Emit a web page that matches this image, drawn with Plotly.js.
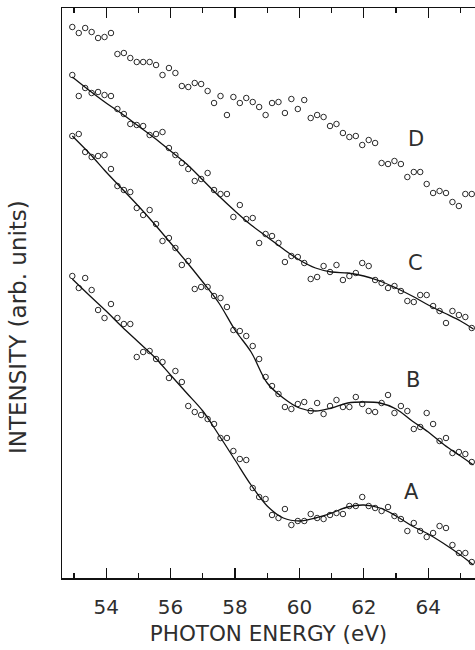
<!DOCTYPE html>
<html>
<head>
<meta charset="utf-8">
<script src="https://cdn.plot.ly/plotly-3.0.1.min.js"></script>
<style>
  html, body { margin: 0; padding: 0; background: #fff; }
  #chart { width: 475px; height: 650px; }
  #dbg { position: absolute; left: 70px; top: 300px; font: 10px monospace; width: 400px; word-wrap: break-word; }
</style>
</head>
<body>
<div id="chart"></div>
<div id="dbg"></div>
<script>
// Photon energies (eV) of the measured points, shared by all four spectra
const energies = [52.95, 53.15, 53.35, 53.55, 53.75, 53.95, 54.15, 54.35, 54.55, 54.75,
  54.95, 55.15, 55.35, 55.55, 55.75, 55.95, 56.15, 56.35, 56.55, 56.75,
  56.95, 57.15, 57.35, 57.55, 57.75, 57.95, 58.15, 58.35, 58.55, 58.75,
  58.95, 59.15, 59.35, 59.55, 59.75, 59.95, 60.15, 60.35, 60.55, 60.75,
  60.95, 61.15, 61.35, 61.55, 61.75, 61.95, 62.15, 62.35, 62.55, 62.75,
  62.95, 63.15, 63.35, 63.55, 63.75, 63.95, 64.15, 64.35, 64.55, 64.75,
  64.95, 65.15, 65.35];

// Measured intensities (arb. units, offset spectra)
const seriesA = [302, 290, 300, 288, 268, 260, 274, 260, 254, 254,
  221, 226, 227, 219, 216, 200, 207, 196, 172, 166,
  163, 159, 154, 140, 140, 127, 119, 118, 90, 81,
  79, 63, 60, 69, 53, 57, 57, 64, 60, 59,
  63, 65, 64, 72, 72, 81, 72, 70, 67, 71,
  62, 59, 47, 55, 47, 41, 45, 52, 50, 33,
  25, 25, 16];
const seriesB = [442, 444, 426, 421, 422, 423, 409, 392, 388, 386,
  370, 363, 368, 354, 337, 340, 330, 313, 317, 289,
  291, 291, 282, 280, 271, 248, 247, 242, 232, 219,
  201, 192, 184, 171, 169, 174, 176, 167, 175, 164,
  172, 178, 171, 171, 181, 174, 167, 166, 175, 183,
  165, 172, 167, 149, 151, 165, 154, 137, 140, 125,
  126, 124, 116];
const seriesC = [503, 482, 490, 485, 486, 483, 482, 469, 464, 454,
  453, 452, 443, 444, 446, 430, 423, 415, 409, 397,
  399, 405, 388, 384, 384, 361, 373, 359, 360, 335,
  344, 342, 335, 316, 322, 321, 315, 299, 301, 312,
  306, 313, 298, 302, 305, 315, 312, 298, 295, 290,
  292, 287, 277, 276, 283, 283, 272, 267, 255, 267,
  263, 261, 250];
const seriesD = [551, 545, 550, 546, 540, 541, 545, 524, 525, 520,
  516, 516, 516, 513, 503, 510, 505, 492, 491, 495,
  494, 487, 475, 482, 463, 481, 475, 480, 476, 471,
  463, 475, 476, 465, 479, 469, 478, 460, 463, 461,
  452, 454, 445, 441, 442, 433, 438, 435, 415, 414,
  417, 414, 401, 406, 406, 394, 385, 387, 385, 376,
  372, 384, 384];

// Fitted curves
const fitEnergies = [52.95, 53.5, 54, 54.5, 55, 55.5, 56, 56.5, 57, 57.5,
  58, 58.5, 59, 59.5, 60, 60.5, 61, 61.5, 62, 62.5,
  63, 63.5, 64, 64.5, 65, 65.4];
const fitA = [299, 282, 267, 251, 236, 221, 203, 185, 167, 143,
  118, 93, 72, 60, 57, 60, 65, 71, 73, 70,
  62, 52, 44, 34, 23, 13];
const fitB = [442, 424, 406, 389, 372, 354, 335, 316, 296, 275,
  248, 226, 195, 180, 170, 167, 170, 175, 176, 175,
  169, 157, 146, 133, 122, 113];
const fitC = [501, 487, 475, 464, 452, 440, 427, 414, 398, 382,
  367, 353, 341, 329, 318, 310, 306, 305, 302, 297,
  290, 282, 273, 265, 257, 249];

// Curve labels and their positions (eV, arb. units)
const curveLabels = ['A', 'B', 'C', 'D'];
const curveLabelX = [63.49, 63.54, 63.59, 63.62];
const curveLabelY = [86, 198, 315, 439];

const textColor = '#2e2e2e';

function markerTrace(ys) {
  return {x: energies, y: ys, type: 'scatter', mode: 'markers',
    marker: {symbol: 'circle-open', size: 5.5, color: '#2a2a2a', line: {width: 1, color: '#2a2a2a'}},
    hoverinfo: 'skip', showlegend: false};
}
function fitTrace(ys) {
  return {x: fitEnergies, y: ys, type: 'scatter', mode: 'lines',
    line: {color: '#111', width: 1.3, shape: 'spline', smoothing: 1},
    hoverinfo: 'skip', showlegend: false};
}

const plotTraces = [
  markerTrace(seriesA), markerTrace(seriesB), markerTrace(seriesC), markerTrace(seriesD),
  fitTrace(fitA), fitTrace(fitB), fitTrace(fitC)
];

const plotAnnotations = curveLabels.map(function (t, i) {
  return {x: curveLabelX[i], y: curveLabelY[i], xref: 'x', yref: 'y', text: t, showarrow: false,
    font: {family: 'DejaVu Sans', size: 21, color: textColor}};
});
plotAnnotations.push({
  x: -0.107, y: 0.44, xref: 'paper', yref: 'paper', xanchor: 'center', yanchor: 'middle',
  text: 'INTENSITY (arb. units)', textangle: -90, showarrow: false,
  font: {family: 'DejaVu Sans', size: 23, color: textColor}
});

const plotLayout = {
  width: 475, height: 650,
  margin: {l: 62, r: 0, t: 8, b: 72},
  paper_bgcolor: '#fff', plot_bgcolor: '#fff',
  font: {family: 'DejaVu Sans', color: textColor},
  xaxis: {
    range: [52.63, 65.45],
    tickmode: 'linear', tick0: 54, dtick: 2,
    ticks: 'inside', ticklen: 10, tickwidth: 1.2, tickcolor: '#111',
    minor: {tickmode: 'linear', tick0: 53, dtick: 1, ticks: 'inside', ticklen: 5, tickwidth: 1.2, tickcolor: '#111', showgrid: false},
    showline: true, linecolor: '#111', linewidth: 1.5, mirror: 'ticks',
    showgrid: false, zeroline: false,
    ticklabelstandoff: 10,
    tickfont: {family: 'DejaVu Sans', size: 20, color: textColor},
    title: {text: 'PHOTON ENERGY (eV)', font: {family: 'DejaVu Sans', size: 21.5, color: textColor}, standoff: 8}
  },
  yaxis: {
    range: [0, 570],
    showticklabels: false, ticks: '',
    showline: true, linecolor: '#111', linewidth: 1.5,
    showgrid: false, zeroline: false
  },
  annotations: plotAnnotations
};

Plotly.newPlot('chart', plotTraces, plotLayout, {staticPlot: true, displayModeBar: false}).then(function (gd) {
  const nt = gd.querySelectorAll('.xtick').length;
  const ln = gd.querySelector('path.xlines-above');
  const dd = ln ? (ln.getAttribute('d') || '') : '';
  if (nt === 0 || (dd.match(/H/g) || []).length < 2) {
    document.getElementById('dbg').textContent = 'DBG xticks=' + nt + ' line=' + dd;
  }
}).catch(function (e) { document.getElementById('dbg').textContent = 'ERR ' + e; });
</script>
</body>
</html>
